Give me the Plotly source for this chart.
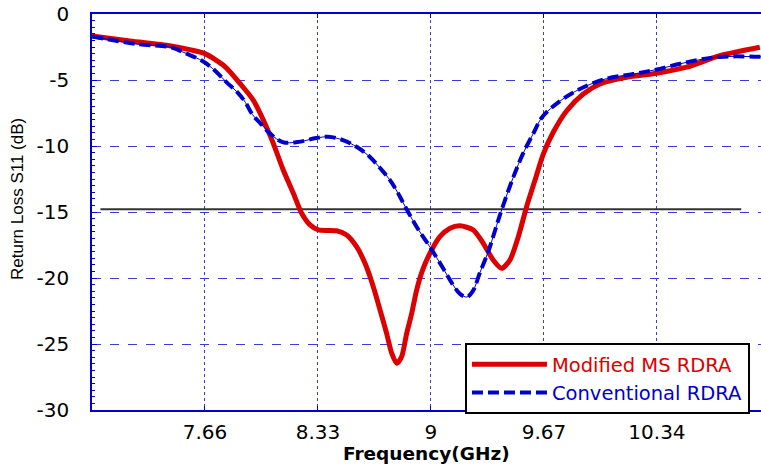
import plotly.graph_objects as go

# ---- data ----
freq_mod = [6.99, 7.215, 7.45, 7.57, 7.66, 7.78, 7.87, 7.946, 8.006, 8.065, 8.124, 8.184,
            8.233, 8.283, 8.332, 8.441, 8.500, 8.559, 8.609, 8.658, 8.698, 8.737, 8.767,
            8.797, 8.826, 8.856, 8.886, 8.915, 8.954, 9.004, 9.053, 9.113, 9.172, 9.251,
            9.310, 9.369, 9.419, 9.468, 9.518, 9.567, 9.617, 9.666, 9.725, 9.805, 9.903,
            10.002, 10.160, 10.338, 10.516, 10.713, 10.950]
s11_mod = [-1.67, -2.05, -2.4, -2.7, -3.0, -4.0, -5.3, -6.52, -8.03, -9.80, -11.82, -13.58,
           -15.10, -15.98, -16.36, -16.42, -16.74, -17.63, -18.89, -20.66, -22.42, -24.19, -25.70,
           -26.46, -25.96, -24.19, -22.67, -20.91, -19.27, -17.88, -16.87, -16.23, -16.05, -16.36,
           -17.37, -18.64, -19.27, -18.64, -16.87, -14.60, -12.58, -10.61, -8.96, -7.33, -6.06,
           -5.30, -4.80, -4.49, -4.03, -3.16, -2.52]

freq_conv = [6.99, 7.27, 7.45, 7.55, 7.65, 7.72, 7.79, 7.85, 7.90, 7.94, 7.99, 8.05, 8.12,
             8.21, 8.32, 8.39, 8.478, 8.561, 8.638, 8.698, 8.757, 8.804, 8.858, 8.923, 8.994,
             9.071, 9.124, 9.172, 9.213, 9.249, 9.29, 9.34, 9.38, 9.42, 9.49, 9.545, 9.605, 9.66,
             9.765, 9.88, 10.04, 10.2, 10.34, 10.52, 10.71, 10.96]
s11_conv = [-1.7, -2.3, -2.5, -3.0, -3.6, -4.3, -5.2, -5.9, -6.7, -7.6, -8.3, -9.1, -9.7,
            -9.7, -9.4, -9.3, -9.55, -10.08, -10.83, -11.67, -12.58, -13.56, -14.85, -16.29, -17.65,
            -19.24, -20.38, -21.2, -21.44, -20.98, -19.6, -18.0, -16.4, -14.8, -12.3, -10.6, -9.1, -7.8,
            -6.6, -5.7, -4.9, -4.55, -4.2, -3.65, -3.25, -3.25]

thresh_freq = [7.04, 10.84]
thresh_s11 = [-14.8, -14.8]

x_ticks = [7.66, 8.33, 9, 9.67, 10.34]
x_ticktext = ["7.66", "8.33", "9", "9.67", "10.34"]
y_ticks = [0, -5, -10, -15, -20, -25, -30]
y_ticktext = ["0", "-5", "-10", "-15", "-20", "-25", "-30"]

RED = "#dd0000"
BLUE = "#0000cc"
GRID = "#3b3bdc"
TICKFONT = dict(family="DejaVu Sans", size=20, color="black")

fig = go.Figure()

fig.add_trace(go.Scatter(
    x=thresh_freq, y=thresh_s11, mode="lines",
    line=dict(color="#333333", width=2), showlegend=False, hoverinfo="skip"))

fig.add_trace(go.Scatter(
    x=freq_mod, y=s11_mod, mode="lines",
    name="<span style='color:#dd0000'>Modified MS RDRA</span>",
    line=dict(color=RED, width=5, shape="spline", smoothing=0.7)))

fig.add_trace(go.Scatter(
    x=freq_conv, y=s11_conv, mode="lines", showlegend=False, hoverinfo="skip",
    line=dict(color=BLUE, width=1, shape="spline", smoothing=1.0)))

fig.add_trace(go.Scatter(
    x=freq_conv, y=s11_conv, mode="lines",
    name="<span style='color:#0000cc'>Conventional RDRA</span>",
    line=dict(color=BLUE, width=4, dash="11px,5px", shape="spline", smoothing=1.0)))

fig.update_layout(
    width=761, height=464,
    margin=dict(l=92, r=0, t=14, b=54),
    plot_bgcolor="white", paper_bgcolor="white",
    legend=dict(
        x=0.5575, y=-0.01, xanchor="left", yanchor="bottom",
        bgcolor="white", bordercolor="black", borderwidth=2,
        font=dict(family="DejaVu Sans", size=19.5),
        itemwidth=75, tracegroupgap=0,
    ),
    annotations=[
        dict(text="Return Loss S11 (dB)", textangle=-90, showarrow=False,
             xref="paper", yref="paper", x=(18 - 92) / 669, y=(410 - 199) / 396,
             xanchor="center", yanchor="middle",
             font=dict(family="Liberation Sans, Arial", size=17, color="black")),
        dict(text="<b>Frequency(GHz)</b>", showarrow=False,
             xref="paper", yref="paper", x=0.5, y=(410 - 453) / 396,
             xanchor="center", yanchor="middle",
             font=dict(family="DejaVu Sans", size=18.5, color="black")),
    ],
)

fig.update_xaxes(
    range=[6.99, 10.957], tickvals=x_ticks, ticktext=x_ticktext,
    showgrid=True, gridcolor=GRID, griddash="dot", gridwidth=1,
    showline=True, linecolor=BLUE, linewidth=1.5, mirror="ticks",
    ticks="inside", ticklen=4, tickcolor=BLUE,
    tickfont=TICKFONT, ticklabelstandoff=3, zeroline=False,
)
fig.update_yaxes(
    range=[-30, 0], tickvals=y_ticks, ticktext=y_ticktext,
    showgrid=True, gridcolor=GRID, griddash="dash", gridwidth=1,
    showline=True, linecolor=BLUE, linewidth=1.5,
    ticks="inside", ticklen=5, tickcolor=BLUE,
    minor=dict(ticks="inside", ticklen=3, dtick=0.5, tickcolor=BLUE, showgrid=False),
    tickfont=TICKFONT, ticklabelstandoff=17, zeroline=False,
)

fig.write_html("out.html")
